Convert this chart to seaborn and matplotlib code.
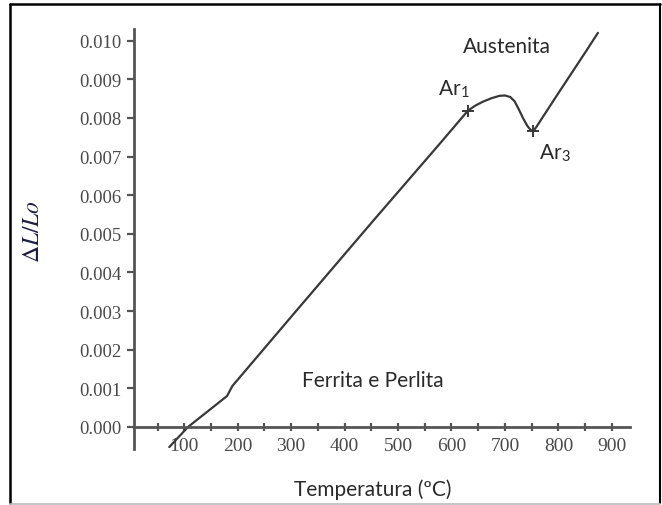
import matplotlib
matplotlib.use("Agg")
import matplotlib.pyplot as plt
import seaborn as sns
import pandas as pd
from matplotlib.lines import Line2D

# ---- data ----
temperature = [72, 107, 180, 190, 300, 450, 578, 631, 645, 659, 675, 690, 700, 710, 718,
               726, 734, 742, 748, 753, 760, 800, 852, 874]
dl_lo = [-0.00052, 0.0, 0.00080, 0.00106, 0.00285, 0.00528, 0.00733, 0.00819, 0.00832,
         0.00842, 0.00851, 0.00857, 0.00858, 0.00854, 0.00843, 0.00822, 0.00799, 0.00779,
         0.00769, 0.00765, 0.00779, 0.00864, 0.00973, 0.01020]
mark_temp = [631, 753]
mark_dl = [0.00819, 0.00765]
x_ticks = list(range(50, 901, 50))
x_labels = [str(t) if t % 100 == 0 else "" for t in x_ticks]
y_ticks = [i / 1000 for i in range(0, 11)]
y_labels = [f"{v:.3f}" for v in y_ticks]

df = pd.DataFrame({"T": temperature, "dL": dl_lo})

sns.set_style("white")
plt.rcParams["mathtext.fontset"] = "stix"

fig = plt.figure(figsize=(6.62, 5.06), dpi=100)
ax = fig.add_axes([134 / 662, 1 - 450 / 506, (630 - 134) / 662, (450 - 30) / 506])

sns.lineplot(data=df, x="T", y="dL", ax=ax, color="#383838", linewidth=1.6, sort=False)
ax.plot(mark_temp, mark_dl, linestyle="none", marker="+", markersize=8,
        markeredgewidth=1.4, color="#383838")

ax.set_xlim(6, 934)
ax.set_ylim(-0.00057, 0.0103)

for s in ["top", "right"]:
    ax.spines[s].set_visible(False)
ax.spines["bottom"].set_position(("data", 0))
for s in ["left", "bottom"]:
    ax.spines[s].set_color("#555555")
    ax.spines[s].set_linewidth(2.0)

serif = ["Liberation Serif", "DejaVu Serif"]
ax.set_xticks(x_ticks)
ax.set_xticklabels(x_labels, family=serif, fontsize=14, color="#4a4a4a")
ax.set_yticks(y_ticks)
ax.set_yticklabels(y_labels, family=serif, fontsize=13.5, color="#4a4a4a")
ax.tick_params(axis="x", bottom=True, direction="inout", length=6, width=1.6, color="#555555", pad=4)
ax.tick_params(axis="y", left=True, direction="out", length=5, width=1.6, color="#555555", pad=4)
ax.set_xlabel("")
ax.set_ylabel("")
ax.grid(False)

sans = ["Lato", "DejaVu Sans"]
txt_color = "#2a2a2a"
ax.text(704, 0.00987, "Austenita", family=sans, fontsize=15, color=txt_color, ha="center", va="center")
ax.text(604, 0.00876, r"Ar$_\mathregular{1}$", family=sans, fontsize=15, color=txt_color, ha="center", va="center")
ax.text(793, 0.00712, r"Ar$_\mathregular{3}$", family=sans, fontsize=15, color=txt_color, ha="center", va="center")
ax.text(452, 0.00122, "Ferrita e Perlita", family=sans, fontsize=15, color=txt_color, ha="center", va="center")

fig.text(373 / 662, 1 - 490 / 506, "Temperatura (ºC)", family=sans, fontsize=15,
         color=txt_color, ha="center", va="center")
fig.text(32 / 662, 1 - 232 / 506, r"$\Delta L/Lo$", fontsize=17, color="#1c1c3c",
         rotation=90, ha="center", va="center")

# outer frame
fig.add_artist(Line2D([10 / 662, 10 / 662], [1 - 5 / 506, 1 - 504 / 506], color="black", lw=1.8, transform=fig.transFigure))
fig.add_artist(Line2D([10 / 662, 659.5 / 662], [1 - 5 / 506, 1 - 5 / 506], color="black", lw=1.8, transform=fig.transFigure))
fig.add_artist(Line2D([659.5 / 662, 659.5 / 662], [1 - 5 / 506, 1 - 504 / 506], color="black", lw=1.5, transform=fig.transFigure))
fig.add_artist(Line2D([10 / 662, 659.5 / 662], [1 - 504.5 / 506, 1 - 504.5 / 506], color="#bbbbbb", lw=1.2, transform=fig.transFigure))

fig.savefig("out.png", dpi=100)
